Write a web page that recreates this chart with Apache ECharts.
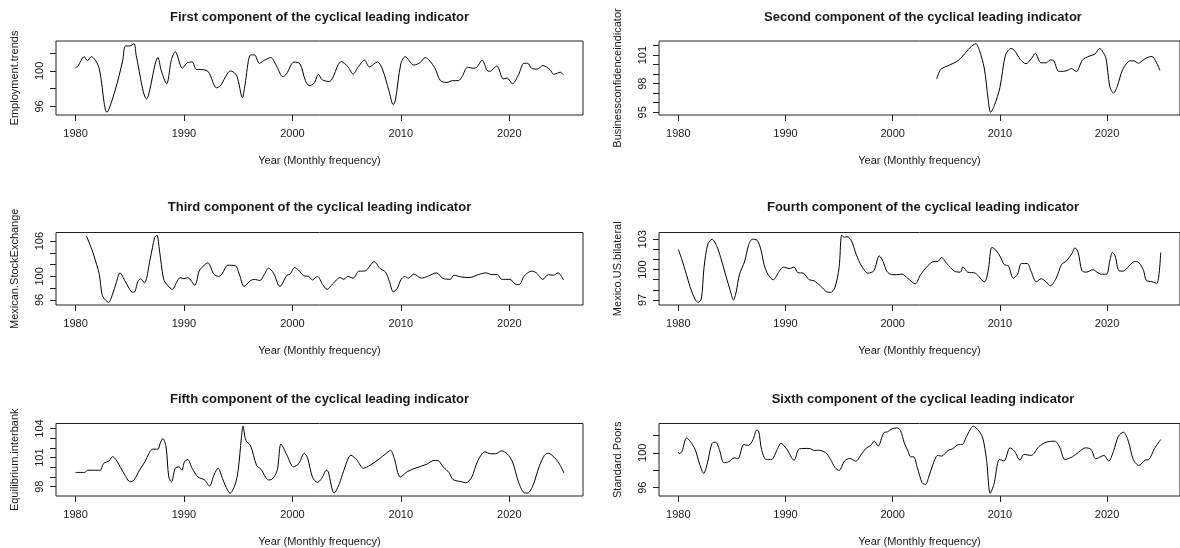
<!DOCTYPE html>
<html>
<head>
<meta charset="utf-8">
<script src="https://cdn.jsdelivr.net/npm/echarts@6/dist/echarts.min.js"></script>
<style>
html,body{margin:0;padding:0;background:#fff;}
#chart{width:1180px;height:548px;}
</style>
</head>
<body>
<div id="chart"></div>
<script>
// ---------------- DATA ----------------
const titles = [
  "First component of the cyclical leading indicator",
  "Second component of the cyclical leading indicator",
  "Third component of the cyclical leading indicator",
  "Fourth component of the cyclical leading indicator",
  "Fifth component of the cyclical leading indicator",
  "Sixth component of the cyclical leading indicator"
];
const yNames = ["Employment.trends","Businessconfidenceindicator","Mexican.StockExchange","Mexico.US.bilateral","Equilibrium.interbank","Standard.Poors"];
const xName = "Year (Monthly frequency)";
const xTicks = [1980,1990,2000,2010,2020];

const yTicks1 = [96,98,100,102];      const yLabels1 = [96,100];
const yTicks2 = [95,96,97,98,99,100,101,102]; const yLabels2 = [95,98,101];
const yTicks3 = [96,98,100,102,104,106]; const yLabels3 = [96,100,106];
const yTicks4 = [97,98,99,100,101,102,103]; const yLabels4 = [97,100,103];
const yTicks5 = [98,99,100,101,102,103,104]; const yLabels5 = [98,101,104];
const yTicks6 = [96,98,100,102];      const yLabels6 = [96,100];

const empYears = [1980.0,1980.2,1980.8,1981.1,1981.45,1982.15,1982.9,1983.65,1984.35,1984.6,1985.0,1985.4,1985.6,1986.55,1987.6,1987.9,1988.4,1988.85,1989.2,1989.85,1990.3,1990.75,1991.15,1991.6,1992.25,1993.0,1993.35,1994.3,1994.85,1995.4,1995.6,1996.15,1996.5,1996.95,1997.35,1998.0,1998.6,1999.1,1999.45,2000.15,2000.7,2001.2,2001.55,2002.0,2002.4,2002.75,2003.4,2004.5,2005.1,2005.6,2006.05,2006.65,2007.1,2007.85,2008.3,2008.9,2009.3,2009.5,2010.0,2010.4,2011.2,2011.8,2012.25,2013.1,2013.65,2014.25,2014.75,2015.3,2015.65,2016.15,2016.7,2017.0,2017.5,2017.95,2018.2,2018.85,2019.45,2019.8,2020.3,2020.85,2021.35,2021.7,2022.05,2022.6,2023.1,2023.75,2024.1,2024.45,2024.7,2025.0];
const empValues = [100.4,100.5,101.6,101.15,101.6,100.4,95.35,97.8,101.15,102.8,102.8,103.05,101.7,96.85,101.5,100.05,98.55,101.3,102.15,100.3,100.9,101.0,100.15,100.15,99.9,98.1,98.3,100.0,99.5,97.0,98.2,101.8,101.8,100.85,101.15,101.5,100.4,99.35,99.65,101.0,100.8,98.9,98.35,98.6,99.6,99.0,98.8,101.05,100.5,99.65,100.4,101.2,100.45,101.0,100.2,97.8,96.2,96.7,100.8,101.6,100.65,100.95,101.5,100.4,98.9,98.7,98.9,98.9,99.35,100.4,100.3,100.4,101.2,100.05,99.95,100.55,99.1,99.2,98.55,99.55,100.85,100.85,100.3,100.2,100.6,100.15,99.6,99.75,99.85,99.55];

const bizYears = [2004.1,2004.45,2004.97,2005.66,2006.18,2006.87,2007.22,2007.74,2008.09,2008.54,2008.9,2009.13,2009.48,2010.0,2010.52,2011.04,2011.39,2011.9,2012.43,2012.95,2013.3,2013.82,2014.34,2014.69,2015.03,2015.48,2015.9,2016.32,2016.67,2017.12,2017.71,2018.33,2018.85,2019.3,2019.55,2019.9,2020.24,2020.6,2020.94,2021.46,2022.15,2022.5,2022.92,2023.37,2024.06,2024.3,2024.93];
const bizValues = [98.5,99.47,99.8,100.15,100.5,101.35,101.8,102.2,101.5,99.65,96.4,95.0,95.7,97.6,101.0,101.7,101.45,100.55,100.1,100.65,101.2,100.2,100.2,100.5,100.4,99.3,99.3,99.4,99.6,99.27,100.5,100.9,101.1,101.7,101.45,100.65,97.75,97.0,97.7,99.5,100.4,100.4,100.15,100.5,100.85,100.8,99.4];

const bmvYears = [1981.0,1981.5,1981.95,1982.2,1982.45,1982.7,1983.05,1983.4,1983.75,1984.1,1984.6,1985.15,1985.4,1985.75,1986.0,1986.35,1986.9,1987.3,1987.5,1987.75,1988.1,1988.3,1988.95,1989.3,1989.65,1990.0,1990.35,1991.0,1991.4,1991.75,1992.2,1992.75,1993.2,1993.5,1994.05,1994.75,1995.1,1995.55,1996.15,1996.5,1997.0,1997.4,1997.8,1998.25,1998.85,1999.5,1999.8,2000.2,2000.55,2001.05,2001.5,2001.85,2002.3,2002.8,2003.2,2003.7,2004.4,2004.75,2005.1,2005.6,2006.15,2006.65,2007.55,2008.05,2008.6,2008.95,2009.3,2009.65,2010.0,2010.35,2010.7,2011.2,2011.9,2012.45,2013.3,2013.85,2014.55,2014.9,2015.6,2016.3,2017.15,2017.85,2018.4,2018.9,2019.3,2020.05,2020.65,2021.0,2021.35,2022.05,2022.5,2023.1,2023.6,2024.05,2024.5,2025.0];
const bmvValues = [106.9,104.6,102.0,100.3,96.9,96.1,95.6,96.9,98.9,100.6,99.1,97.4,97.3,99.1,99.6,98.9,103.1,106.6,107.0,104.3,99.7,98.9,97.8,98.9,99.8,99.6,99.8,98.5,100.9,101.7,102.3,100.4,100.0,100.4,101.9,101.8,100.4,98.3,99.3,99.5,99.3,100.3,101.4,100.6,98.3,100.2,100.4,101.5,101.1,100.1,100.0,99.4,100.0,98.6,97.8,98.7,99.8,99.5,100.0,99.7,100.9,100.9,102.5,101.4,100.7,99.1,97.4,97.9,99.4,100.0,99.7,100.4,99.7,100.0,100.6,99.7,99.5,100.2,99.9,99.8,100.3,100.6,100.3,100.3,99.5,99.5,98.6,98.7,100.0,100.9,100.6,99.5,100.3,100.2,100.6,99.4];

const fxYears = [1980.0,1980.3,1980.75,1981.1,1981.55,1981.85,1982.15,1982.4,1982.75,1983.15,1983.6,1983.95,1984.5,1984.8,1985.15,1985.4,1985.7,1986.2,1986.55,1986.9,1987.35,1987.7,1988.0,1988.35,1988.85,1989.4,1989.8,1990.35,1990.8,1991.15,1991.65,1992.2,1992.65,1993.25,1993.85,1994.2,1994.6,1995.0,1995.25,1995.5,1995.75,1996.15,1996.6,1997.1,1997.7,1998.25,1998.75,1999.1,1999.45,1999.9,2000.35,2000.85,2001.4,2002.1,2002.6,2003.25,2003.85,2004.2,2004.55,2005.05,2005.75,2006.3,2006.55,2007.0,2007.7,2008.55,2008.9,2009.25,2009.6,2010.05,2010.4,2010.8,2011.25,2011.65,2012.0,2012.55,2012.9,2013.4,2013.85,2014.3,2014.7,2015.25,2015.75,2016.2,2016.7,2017.0,2017.3,2017.65,2018.05,2018.7,2019.05,2019.45,2019.95,2020.25,2020.5,2020.75,2021.1,2021.5,2022.05,2022.55,2022.95,2023.4,2023.65,2024.2,2024.65,2025.0];
const fxValues = [102.0,101.1,99.55,98.3,97.1,96.77,97.1,100.2,102.5,103.0,102.3,101.2,99.15,98.1,97.0,97.8,99.5,100.85,102.4,103.0,102.9,102.0,100.5,99.55,99.0,99.8,100.25,100.1,100.25,99.7,99.65,99.0,98.9,98.4,97.8,97.75,98.2,100.2,103.4,103.2,103.25,102.85,101.5,100.35,99.65,99.9,101.35,100.8,99.85,99.5,99.5,99.55,99.15,98.6,99.5,100.35,100.8,100.8,101.2,100.6,99.85,99.75,100.25,99.75,99.65,98.8,99.85,102.2,101.95,101.25,100.5,100.35,99.15,99.55,100.6,100.6,99.85,98.8,99.1,98.8,98.4,99.15,100.5,100.85,101.55,102.15,101.7,99.9,99.75,100.0,99.75,99.55,99.55,100.85,101.7,101.35,99.9,99.85,100.35,100.8,100.7,99.9,98.95,98.8,98.65,101.7];

const ibYears = [1980.0,1980.85,1981.1,1982.1,1982.25,1982.6,1983.1,1983.4,1983.8,1984.5,1985.05,1985.4,1985.9,1986.4,1986.8,1987.1,1987.6,1987.8,1988.05,1988.35,1988.6,1988.85,1989.2,1989.55,1989.8,1990.05,1990.35,1990.75,1991.3,1991.9,1992.35,1992.8,1993.15,1993.55,1993.9,1994.25,1994.7,1995.0,1995.3,1995.45,1995.7,1996.15,1996.7,1997.1,1997.8,1998.1,1998.6,1998.95,1999.5,2000.1,2000.6,2001.1,2001.4,2001.85,2002.3,2002.7,2003.15,2003.3,2003.85,2004.35,2004.7,2005.4,2005.95,2006.55,2007.15,2008.05,2008.55,2009.05,2009.4,2009.95,2010.6,2011.3,2012.35,2013.05,2013.4,2013.9,2014.45,2014.8,2015.65,2016.0,2016.55,2017.05,2017.75,2018.25,2018.75,2019.3,2019.8,2020.3,2020.85,2021.35,2021.7,2022.2,2022.75,2023.25,2023.6,2024.3,2024.65,2025.05];
const ibValues = [99.47,99.47,99.7,99.7,99.65,100.4,100.67,101.1,100.67,99.3,98.5,98.7,99.7,100.57,101.5,101.87,101.87,102.45,102.97,102.1,99.0,98.5,99.9,100.05,99.7,100.57,100.8,99.9,99.0,98.7,98.07,99.3,99.9,98.85,97.93,97.32,98.17,99.7,103.1,104.24,102.8,102.2,100.2,99.8,98.7,98.75,99.7,102.4,101.25,100.05,100.4,101.45,100.95,99.0,98.45,98.85,99.7,99.55,97.35,98.35,99.55,101.25,100.75,99.9,100.2,100.9,101.35,101.75,100.9,99.0,99.55,99.9,100.3,100.7,100.7,100.05,99.45,98.75,98.5,98.4,99.0,100.55,101.6,101.4,101.4,101.7,101.4,100.55,98.5,97.4,97.35,98.17,100.05,101.25,101.45,100.85,100.3,99.4];

const spYears = [1980.0,1980.1,1980.35,1980.77,1981.1,1981.57,1982.0,1982.37,1982.72,1983.14,1983.48,1983.83,1984.25,1984.7,1985.23,1985.57,1986.1,1986.55,1986.97,1987.32,1987.5,1987.77,1988.2,1988.7,1989.23,1989.58,1990.1,1990.8,1991.3,1992.2,1992.7,1993.07,1993.76,1994.2,1994.63,1995.0,1995.5,1996.0,1996.55,1997.07,1997.5,1997.94,1998.3,1998.64,1999.16,1999.5,1999.93,2000.38,2000.73,2001.08,2001.43,2001.67,2001.95,2002.3,2002.75,2003.07,2003.34,2003.7,2004.2,2004.56,2005.16,2005.6,2006.13,2006.48,2006.9,2007.53,2008.05,2008.4,2008.75,2009.1,2009.44,2009.97,2010.38,2010.94,2011.36,2011.88,2012.23,2012.93,2013.62,2014.32,2015.12,2015.6,2016.06,2016.76,2017.35,2017.98,2018.5,2018.95,2019.72,2020.14,2020.6,2021.05,2021.53,2021.98,2022.44,2022.96,2023.55,2023.9,2024.43,2025.0];
const spValues = [100.08,99.9,100.2,101.7,101.33,100.38,98.67,97.64,98.86,101.07,101.22,100.38,98.86,98.97,99.43,99.31,100.95,100.84,101.52,102.59,102.48,100.38,99.24,99.24,100.38,101.07,100.46,99.16,100.46,100.5,100.27,100.3,100.0,99.24,98.29,97.98,99.05,99.35,99.05,99.81,100.5,100.84,101.33,100.76,102.29,102.4,102.74,102.86,102.55,101.14,100.19,99.54,99.54,98.29,96.57,96.38,97.14,98.48,99.7,99.62,100.27,100.46,100.95,100.95,101.9,103.05,102.48,101.71,99.24,95.36,96.38,99.24,99.05,100.57,100.19,99.16,99.81,99.7,100.69,101.22,101.33,100.57,99.24,99.54,100.08,100.57,100.38,99.31,99.7,99.05,100.19,101.9,102.36,101.33,99.24,98.55,99.16,99.24,100.5,101.52];

// ---------------- CHART ----------------
const panels = [
  {x: empYears, y: empValues, ticks: yTicks1, labels: yLabels1},
  {x: bizYears, y: bizValues, ticks: yTicks2, labels: yLabels2},
  {x: bmvYears, y: bmvValues, ticks: yTicks3, labels: yLabels3},
  {x: fxYears,  y: fxValues,  ticks: yTicks4, labels: yLabels4},
  {x: ibYears,  y: ibValues,  ticks: yTicks5, labels: yLabels5},
  {x: spYears,  y: spValues,  ticks: yTicks6, labels: yLabels6}
];

const FONT = '"Liberation Sans", Arial, sans-serif';
const TXT = '#1a1a1a';
const colLeft = [56, 659];
const colWidth = [527, 528];
const rowTop = [41, 232.5, 423.5];
const rowHeight = [74, 72.5, 72.5];
const titleTop = [10.5, 201, 392.5];

const grids = [], xAxes = [], yAxes = [], series = [], titleOpts = [];
panels.forEach((p, i) => {
  const r = Math.floor(i / 2), c = i % 2;
  grids.push({
    left: colLeft[c], top: rowTop[r], width: colWidth[c], height: rowHeight[r],
    show: true, borderColor: '#222', borderWidth: 1, backgroundColor: 'transparent',
    containLabel: false
  });
  xAxes.push({
    type: 'value', gridIndex: i,
    min: 1980 - 0.04 * 45, max: 2025 + 0.04 * 45,
    axisLine: {show: false}, splitLine: {show: false},
    axisTick: {show: true, inside: false, length: 6, customValues: xTicks, lineStyle: {color: '#222', width: 1}},
    axisLabel: {show: true, customValues: xTicks, formatter: v => String(v), margin: 13, fontSize: 11, fontFamily: FONT, color: TXT},
    name: xName, nameLocation: 'middle', nameGap: 40,
    nameTextStyle: {fontSize: 11, fontFamily: FONT, color: TXT}
  });
  const lo = Math.min(...p.y), hi = Math.max(...p.y), rg = hi - lo;
  yAxes.push({
    type: 'value', gridIndex: i,
    min: lo - 0.04 * rg, max: hi + 0.04 * rg,
    axisLine: {show: false}, splitLine: {show: false},
    axisTick: {show: true, inside: false, length: 6, customValues: p.ticks, lineStyle: {color: '#222', width: 1}},
    axisLabel: {show: true, customValues: p.labels, formatter: v => String(v), rotate: 90, margin: 11, fontSize: 11, fontFamily: FONT, color: TXT},
    name: yNames[i], nameLocation: 'middle', nameGap: 36,
    nameTextStyle: {fontSize: 11, fontFamily: FONT, color: TXT}
  });
  series.push({
    type: 'line', xAxisIndex: i, yAxisIndex: i,
    data: p.x.map((yr, k) => [yr, p.y[k]]),
    showSymbol: false, symbol: 'none', smooth: 0.3,
    lineStyle: {color: '#000', width: 1}, silent: true
  });
  titleOpts.push({
    text: titles[i], left: colLeft[c] + colWidth[c] / 2, top: titleTop[r],
    textAlign: 'center', padding: 0,
    textStyle: {fontSize: 13, fontWeight: 'bold', fontFamily: FONT, color: TXT}
  });
});

const chart = echarts.init(document.getElementById('chart'), null, {renderer: 'canvas'});
chart.setOption({
  animation: false,
  backgroundColor: '#fff',
  title: titleOpts,
  grid: grids,
  xAxis: xAxes,
  yAxis: yAxes,
  series: series
});
</script>
</body>
</html>
